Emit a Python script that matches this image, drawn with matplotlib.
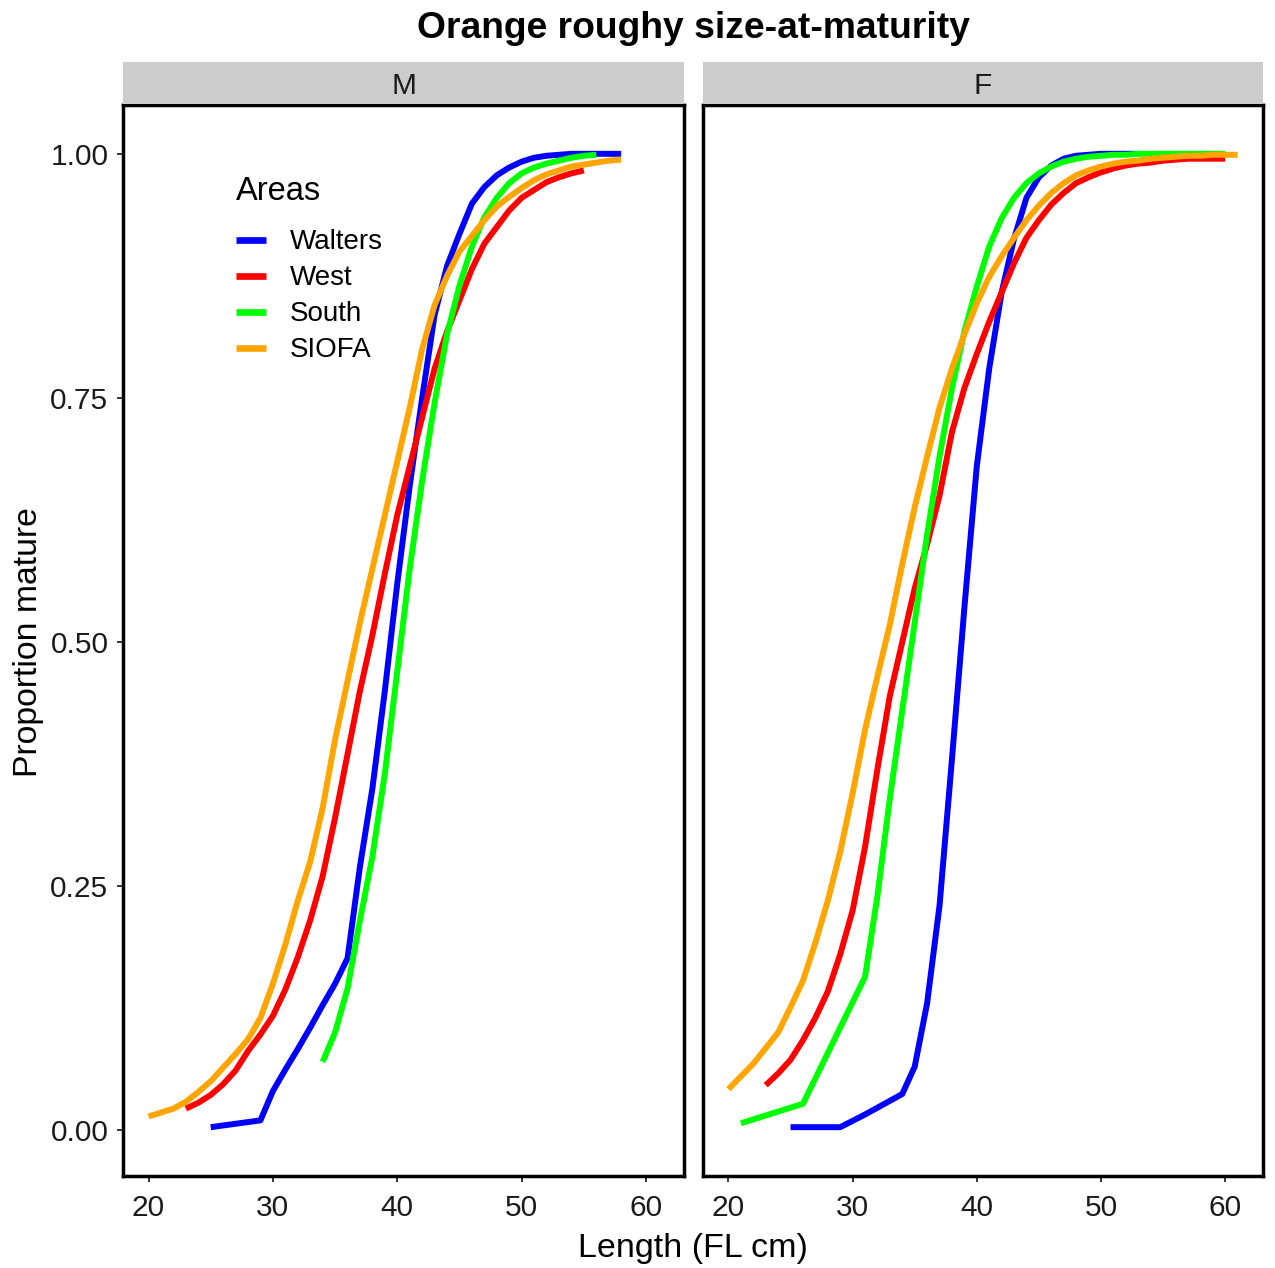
import matplotlib
matplotlib.use("Agg")
import matplotlib.pyplot as plt

plt.rcParams['font.family'] = ['Liberation Sans', 'DejaVu Sans']

# ---------------- data ----------------
areas = ["Walters", "West", "South", "SIOFA"]
area_colors = ["#0000FF", "#FF0000", "#00FF00", "#FFA500"]
panels = ["M", "F"]
x_ticks = [20, 30, 40, 50, 60]
y_ticks = [0.00, 0.25, 0.50, 0.75, 1.00]
y_tick_labels = ["0.00", "0.25", "0.50", "0.75", "1.00"]

# Males
walters_m_len = [25, 29, 30, 31, 32, 33, 34, 35, 36, 37, 38, 39, 40, 41, 42, 43, 44,
                 45, 46, 47, 48, 49, 50, 51, 52, 53, 54, 55, 56, 57, 58]
walters_m = [0.003, 0.010, 0.040, 0.062, 0.083, 0.105, 0.128, 0.150, 0.176, 0.27,
             0.35, 0.45, 0.56, 0.66, 0.75, 0.835, 0.885, 0.918, 0.949, 0.966, 0.978,
             0.986, 0.992, 0.996, 0.998, 0.999, 1.0, 1.0, 1.0, 1.0, 1.0]

west_m_len = list(range(23, 56))
west_m = [0.022, 0.028, 0.036, 0.047, 0.061, 0.081, 0.098, 0.117, 0.144, 0.177,
          0.215, 0.26, 0.32, 0.385, 0.45, 0.507, 0.57, 0.63, 0.68, 0.73, 0.78,
          0.818, 0.85, 0.882, 0.908, 0.925, 0.942, 0.955, 0.963, 0.971, 0.976,
          0.980, 0.983]

south_m_len = list(range(34, 57))
south_m = [0.070, 0.100, 0.145, 0.215, 0.28, 0.365, 0.47, 0.575, 0.665, 0.745,
           0.815, 0.865, 0.905, 0.935, 0.955, 0.970, 0.980, 0.986, 0.990, 0.993,
           0.996, 0.998, 0.999]

siofa_m_len = list(range(20, 59))
siofa_m = [0.014, 0.018, 0.022, 0.029, 0.039, 0.050, 0.064, 0.078, 0.093, 0.115,
           0.150, 0.190, 0.235, 0.275, 0.33, 0.40, 0.46, 0.52, 0.575, 0.63,
           0.685, 0.74, 0.80, 0.845, 0.875, 0.90, 0.916, 0.932, 0.946, 0.956,
           0.965, 0.973, 0.979, 0.983, 0.987, 0.989, 0.991, 0.993, 0.994]

# Females
walters_f_len = [25, 29, 30, 31, 32, 33, 34, 35, 36, 37, 38, 39, 40, 41, 42, 43, 44,
                 45, 46, 47, 48, 49, 50, 51, 52, 53]
walters_f = [0.003, 0.003, 0.0095, 0.016, 0.023, 0.030, 0.037, 0.065, 0.13, 0.23,
             0.38, 0.535, 0.68, 0.78, 0.858, 0.913, 0.955, 0.976, 0.988, 0.995,
             0.998, 0.999, 1.0, 1.0, 1.0, 1.0]

west_f_len = list(range(23, 61))
west_f = [0.046, 0.058, 0.072, 0.092, 0.115, 0.142, 0.180, 0.225, 0.29, 0.37,
          0.445, 0.50, 0.555, 0.60, 0.65, 0.715, 0.76, 0.795, 0.828, 0.858,
          0.888, 0.914, 0.932, 0.948, 0.960, 0.970, 0.976, 0.981, 0.985, 0.988,
          0.990, 0.991, 0.993, 0.994, 0.995, 0.995, 0.995, 0.995]

south_f_len = [21, 26, 31, 32, 33, 34, 35, 36, 37, 38, 39, 40, 41, 42, 43, 44, 45,
               46, 47, 48, 49, 50, 51, 52, 53, 54, 55, 56, 57, 58, 59, 60]
south_f = [0.007, 0.027, 0.157, 0.24, 0.34, 0.43, 0.52, 0.61, 0.69, 0.76, 0.818,
           0.864, 0.905, 0.934, 0.955, 0.970, 0.980, 0.987, 0.992, 0.995, 0.997,
           0.998, 0.999, 0.999, 1.0, 1.0, 1.0, 1.0, 1.0, 1.0, 1.0, 1.0]

siofa_f_len = list(range(20, 62))
siofa_f = [0.042, 0.055, 0.068, 0.084, 0.100, 0.126, 0.153, 0.192, 0.235, 0.285,
           0.345, 0.41, 0.465, 0.518, 0.58, 0.638, 0.69, 0.74, 0.78, 0.815,
           0.847, 0.874, 0.895, 0.914, 0.932, 0.947, 0.960, 0.970, 0.978, 0.983,
           0.987, 0.990, 0.992, 0.993, 0.995, 0.996, 0.997, 0.998, 0.998, 0.999,
           0.999, 0.999]

series = {
    "M": [(walters_m_len, walters_m), (west_m_len, west_m),
          (south_m_len, south_m), (siofa_m_len, siofa_m)],
    "F": [(walters_f_len, walters_f), (west_f_len, west_f),
          (south_f_len, south_f), (siofa_f_len, siofa_f)],
}

# ---------------- figure ----------------
W, H = 1275, 1268
fig = plt.figure(figsize=(W / 100, H / 100), dpi=100)


def rect(x0, y0, x1, y1):
    return [x0 / W, 1 - y1 / H, (x1 - x0) / W, (y1 - y0) / H]


panel_px = [(123, 684), (703, 1263)]
top_px, bot_px = 105, 1176
strip_top = 62

xlim = (17.95, 63.05)
ylim = (-0.047, 1.05)

axes = []
for i, (sex, (x0, x1)) in enumerate(zip(panels, panel_px)):
    ax = fig.add_axes(rect(x0, top_px, x1, bot_px))
    for (lx, ly), col, name in zip(series[sex], area_colors, areas):
        ax.plot(lx, ly, color=col, lw=4.3, label=name,
                solid_capstyle='butt', solid_joinstyle='round')
    ax.set_xlim(*xlim)
    ax.set_ylim(*ylim)
    ax.set_xticks(x_ticks)
    ax.set_xticklabels([str(t) for t in x_ticks])
    ax.set_yticks(y_ticks)
    ax.set_yticklabels(y_tick_labels)
    for sp in ax.spines.values():
        sp.set_linewidth(2.5)
        sp.set_color('black')
    ax.tick_params(axis='x', length=4.5, width=1.1, color='black',
                   labelsize=21.5, labelcolor='#1a1a1a', pad=8.5)
    ax.tick_params(axis='y', length=4.5, width=1.1, color='black',
                   labelsize=21.5, labelcolor='#1a1a1a', pad=6)
    if i == 1:
        ax.tick_params(axis='y', left=False, labelleft=False)

    sax = fig.add_axes(rect(x0, strip_top, x1, top_px - 1))
    sax.set_facecolor('#cccccc')
    sax.set_xticks([])
    sax.set_yticks([])
    for sp in sax.spines.values():
        sp.set_visible(False)
    sax.text(0.5, 0.42, sex, ha='center', va='center', fontsize=21.5,
             color='#1a1a1a', transform=sax.transAxes)
    axes.append(ax)

leg = axes[0].legend(title="Areas", loc='upper left',
                     bbox_to_anchor=(0.201, 0.9335), frameon=False,
                     fontsize=20, title_fontsize=23.5,
                     handlelength=1.1, handletextpad=0.85,
                     labelspacing=0.36, borderpad=0, borderaxespad=0,
                     alignment='left')
leg._legend_box.sep = 16
for lh in leg.get_lines():
    lh.set_linewidth(4.8)

fig.text(693 / W, 1 - 29 / H, "Orange roughy size-at-maturity",
         ha='center', va='center', fontsize=26.8, fontweight='bold')
fig.text(693 / W, 1 - 1248 / H, "Length (FL cm)", ha='center',
         va='center', fontsize=24.5)
fig.text(29 / W, 1 - 642 / H, "Proportion mature", ha='center',
         va='center', fontsize=24.3, rotation=90)

fig.savefig("out.png", dpi=100)
